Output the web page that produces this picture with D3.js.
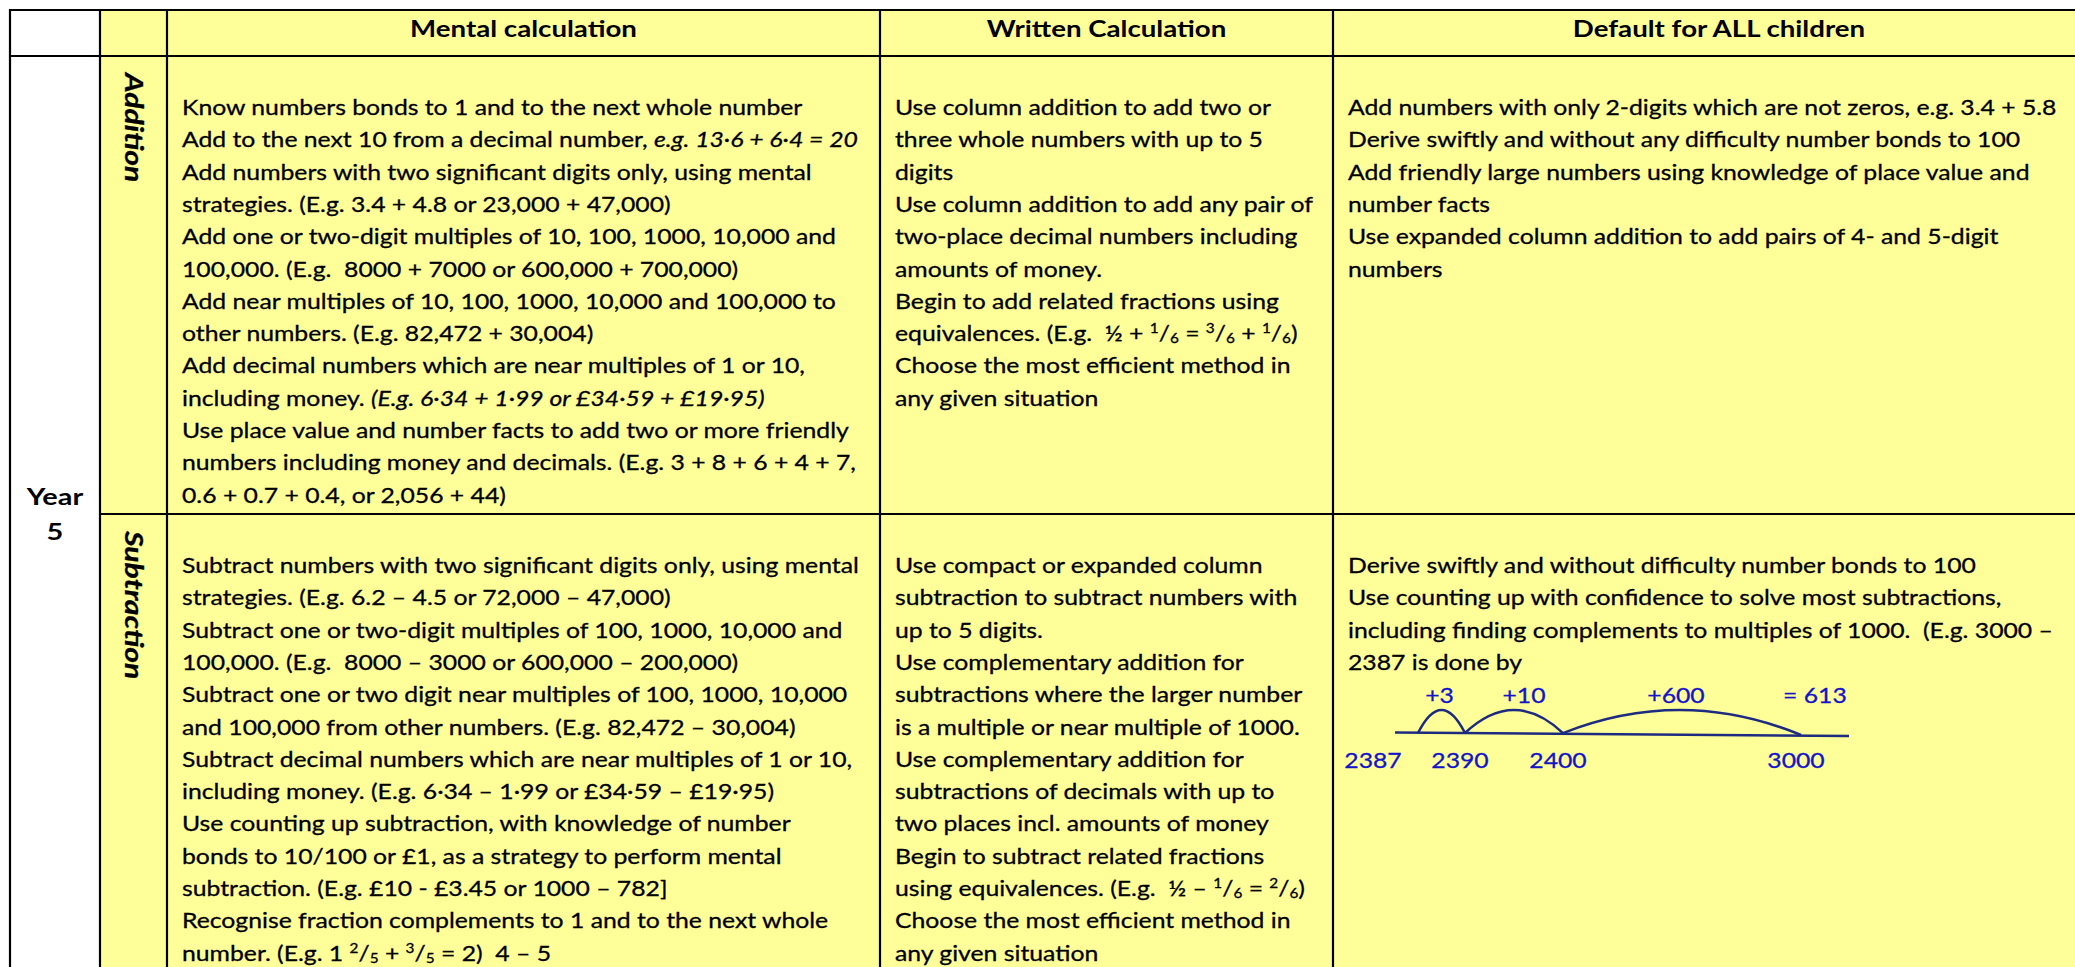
<!DOCTYPE html>
<html><head><meta charset="utf-8">
<script src="https://cdn.jsdelivr.net/npm/d3@7"></script>
<style>body{margin:0;background:#fff}svg{display:block}text{white-space:pre}</style>
</head><body>
<svg id="c" width="2075" height="967"></svg>
<script>
// ---------------- DATA ----------------
const headers = ["", "", "Mental calculation", "Written Calculation", "Default for ALL children"];
const yearLabel = ["Year", "5"];
const rowLabels = ["Addition", "Subtraction"];

const mentalAddition = [
  "Know numbers bonds to 1 and to the next whole number",
  "Add to the next 10 from a decimal number, *e.g. 13·6 + 6·4 = 20*",
  "Add numbers with two significant digits only, using mental",
  "strategies. (E.g. 3.4 + 4.8 or 23,000 + 47,000)",
  "Add one or two-digit multiples of 10, 100, 1000, 10,000 and",
  "100,000. (E.g.  8000 + 7000 or 600,000 + 700,000)",
  "Add near multiples of 10, 100, 1000, 10,000 and 100,000 to",
  "other numbers. (E.g. 82,472 + 30,004)",
  "Add decimal numbers which are near multiples of 1 or 10,",
  "including money. *(E.g. 6·34 + 1·99 or £34·59 + £19·95)*",
  "Use place value and number facts to add two or more friendly",
  "numbers including money and decimals. (E.g. 3 + 8 + 6 + 4 + 7,",
  "0.6 + 0.7 + 0.4, or 2,056 + 44)"
];
const writtenAddition = [
  "Use column addition to add two or",
  "three whole numbers with up to 5",
  "digits",
  "Use column addition to add any pair of",
  "two-place decimal numbers including",
  "amounts of money.",
  "Begin to add related fractions using",
  "equivalences. (E.g.  ½ + ^1^/_6_ = ^3^/_6_ + ^1^/_6_)",
  "Choose the most efficient method in",
  "any given situation"
];
const defaultAddition = [
  "Add numbers with only 2-digits which are not zeros, e.g. 3.4 + 5.8",
  "Derive swiftly and without any difficulty number bonds to 100",
  "Add friendly large numbers using knowledge of place value and",
  "number facts",
  "Use expanded column addition to add pairs of 4- and 5-digit",
  "numbers"
];
const mentalSubtraction = [
  "Subtract numbers with two significant digits only, using mental",
  "strategies. (E.g. 6.2 – 4.5 or 72,000 – 47,000)",
  "Subtract one or two-digit multiples of 100, 1000, 10,000 and",
  "100,000. (E.g.  8000 – 3000 or 600,000 – 200,000)",
  "Subtract one or two digit near multiples of 100, 1000, 10,000",
  "and 100,000 from other numbers. (E.g. 82,472 – 30,004)",
  "Subtract decimal numbers which are near multiples of 1 or 10,",
  "including money. (E.g. 6·34 – 1·99 or £34·59 – £19·95)",
  "Use counting up subtraction, with knowledge of number",
  "bonds to 10/100 or £1, as a strategy to perform mental",
  "subtraction. (E.g. £10 - £3.45 or 1000 – 782]",
  "Recognise fraction complements to 1 and to the next whole",
  "number. (E.g. 1 ^2^/_5_ + ^3^/_5_ = 2)  4 – 5"
];
const writtenSubtraction = [
  "Use compact or expanded column",
  "subtraction to subtract numbers with",
  "up to 5 digits.",
  "Use complementary addition for",
  "subtractions where the larger number",
  "is a multiple or near multiple of 1000.",
  "Use complementary addition for",
  "subtractions of decimals with up to",
  "two places incl. amounts of money",
  "Begin to subtract related fractions",
  "using equivalences. (E.g.  ½ – ^1^/_6_ = ^2^/_6_)",
  "Choose the most efficient method in",
  "any given situation"
];
const defaultSubtraction = [
  "Derive swiftly and without difficulty number bonds to 100",
  "Use counting up with confidence to solve most subtractions,",
  "including finding complements to multiples of 1000.  (E.g. 3000 –",
  "2387 is done by"
];
const numberLineValues = [2387, 2390, 2400, 3000];
const jumpLabels = ["+3", "+10", "+600"];
const jumpResult = "= 613";

// ---------------- LAYOUT ----------------
const W = 2075, H = 967;
const colEdges = [10, 100, 167, 880, 1333, 2090];
const rowEdges = [10, 56, 514, 990];
const YELLOW = "#FFFF99";
const FONT = "Lato, 'Open Sans', sans-serif";
const FS = 22, LH = 32.3, PAD = 15, FIRST = 59;
const INK = 0.3; // slight stroke to mimic the darker reference face

const svg = d3.select("#c");

const colX = d3.scaleOrdinal().domain(d3.range(colEdges.length)).range(colEdges);
const rowY = d3.scaleOrdinal().domain(d3.range(rowEdges.length)).range(rowEdges);

// backgrounds
svg.append("rect").attr("x", 0).attr("y", 0).attr("width", W).attr("height", H).attr("fill", "#fff");
svg.append("rect").attr("x", colX(1)).attr("y", rowY(0))
  .attr("width", W - colX(1)).attr("height", H - rowY(0)).attr("fill", YELLOW);

// ---- text helpers ----
function parseSegs(s) {
  const out = []; const re = /(\*[^*]+\*|\^[^^]+\^|_[^_]+_)/g;
  let last = 0, m;
  while ((m = re.exec(s))) {
    if (m.index > last) out.push({ t: s.slice(last, m.index), k: "n" });
    const tok = m[0];
    out.push({ t: tok.slice(1, -1), k: tok[0] === "*" ? "i" : tok[0] === "^" ? "sup" : "sub" });
    last = re.lastIndex;
  }
  if (last < s.length) out.push({ t: s.slice(last), k: "n" });
  return out;
}
function fillText(textSel, str) {
  let cur = 0;
  parseSegs(str).forEach(sg => {
    const target = sg.k === "sup" ? -8 : sg.k === "sub" ? 2 : 0;
    const ts = textSel.append("tspan").text(sg.t).attr("dy", target - cur);
    cur = target;
    if (sg.k === "i") ts.attr("font-style", "italic");
    if (sg.k === "sup" || sg.k === "sub") ts.attr("font-size", FS * 0.62);
  });
}
function measure(str, weight, style, size) {
  const t = svg.append("text").attr("font-family", FONT).attr("font-size", size || FS)
    .attr("font-weight", weight || "normal").attr("font-style", style || "normal");
  fillText(t, str);
  const w = t.node().getBBox().width;
  t.remove();
  return w;
}
// horizontal calibration against reference line widths
const kMental = 678 / measure(mentalAddition[1]);
const kWritten = 420 / measure(writtenAddition[3]);
const kDefault = 705 / measure(defaultAddition[0]);
const kBody = (kMental + kWritten + kDefault) / 3;
const kHead = 227 / measure(headers[2], "bold");

function drawLines(lines, x, top, color) {
  lines.forEach((str, i) => {
    const g = svg.append("g")
      .attr("transform", `translate(${x},${top + FIRST + i * LH}) scale(${kBody},1)`);
    const t = g.append("text").attr("x", 0).attr("y", 0)
      .attr("font-family", FONT).attr("font-size", FS).attr("fill", color || "#000")
      .attr("stroke", color || "#000").attr("stroke-width", INK);
    fillText(t, str);
  });
}

// headers
headers.forEach((h, i) => {
  if (!h) return;
  const center = i === 4 ? (colX(4) + W + 30) / 2 : (colX(i) + colX(i + 1)) / 2;
  svg.append("g").attr("transform", `translate(${center},37) scale(${kHead},1)`)
    .append("text").attr("text-anchor", "middle").attr("font-family", FONT)
    .attr("font-size", FS).attr("font-weight", "bold").text(h);
});

// year label
yearLabel.forEach((s, i) => {
  svg.append("g").attr("transform", `translate(${(colX(0) + colX(1)) / 2},${505 + i * 35}) scale(${kHead},1)`)
    .append("text").attr("text-anchor", "middle").attr("font-family", FONT)
    .attr("font-size", FS + 1).attr("font-weight", "bold").text(s);
});

// rotated row labels
rowLabels.forEach((s, i) => {
  svg.append("g").attr("transform", `translate(${colX(1) + 25},${rowY(i + 1) + 17}) rotate(90) scale(${kHead},1)`)
    .append("text").attr("font-family", FONT).attr("font-size", FS + 2)
    .attr("font-weight", "bold").attr("font-style", "italic")
    .attr("stroke", "#000").attr("stroke-width", INK).text(s);
});

// cell bodies
const cells = [
  [mentalAddition, writtenAddition, defaultAddition],
  [mentalSubtraction, writtenSubtraction, defaultSubtraction]
];
cells.forEach((row, r) => row.forEach((lines, c) => {
  drawLines(lines, colX(c + 2) + PAD, rowY(r + 1));
}));

// ---- number line (empty number line diagram) ----
const cellL = colX(4);
const nx = d3.scaleLinear().domain(numberLineValues)
  .range([cellL + 85, cellL + 132, cellL + 230, cellL + 468]);
const baseY = d3.scaleLinear().domain([2387, 3000]).range([733, 735]);
const NAVY = "#1c2b80", BLUE = "#1414c8";
const nl = svg.append("g");
nl.append("line")
  .attr("x1", nx(2387) - 23).attr("y1", baseY(2387) - 0.5)
  .attr("x2", nx(3000) + 48).attr("y2", baseY(3000) + 1)
  .attr("stroke", NAVY).attr("stroke-width", 2.5);
const jumps = d3.pairs(numberLineValues);
nl.selectAll("path.arc").data(jumps).join("path").attr("class", "arc")
  .attr("d", ([a, b]) => {
    const x0 = nx(a), x1 = nx(b), y0 = baseY(a), y1 = baseY(b);
    const peak = 710;
    const cy = 2 * peak - (y0 + y1) / 2;
    return `M${x0},${y0} Q${(x0 + x1) / 2},${cy} ${x1},${y1}`;
  })
  .attr("fill", "none").attr("stroke", NAVY).attr("stroke-width", 2.5);
nl.selectAll("g.jl").data(jumps).join("g").attr("class", "jl")
  .attr("transform", ([a, b], i) => `translate(${(nx(a) + nx(b)) / 2 + (i === 1 ? 10 : i === 2 ? -6 : -2)},703) scale(${kBody},1)`)
  .append("text").attr("text-anchor", "middle").attr("font-family", FONT)
  .attr("font-size", FS).attr("fill", BLUE).attr("stroke", BLUE).attr("stroke-width", INK)
  .text((d, i) => jumpLabels[i]);
nl.append("g").attr("transform", `translate(${nx(3000) - 18},703) scale(${kBody},1)`)
  .append("text").attr("font-family", FONT).attr("font-size", FS).attr("fill", BLUE)
  .attr("stroke", BLUE).attr("stroke-width", INK).text(jumpResult);
nl.selectAll("g.vl").data(numberLineValues).join("g").attr("class", "vl")
  .attr("transform", (v, i) => `translate(${i === 0 ? cellL + PAD + 25 : nx(v) - 5},768) scale(${kBody},1)`)
  .append("text").attr("text-anchor", "middle").attr("font-family", FONT)
  .attr("font-size", FS).attr("fill", BLUE).attr("stroke", BLUE).attr("stroke-width", INK)
  .text(v => v);

// ---- borders ----
const B = svg.append("g").attr("stroke", "#000").attr("stroke-width", 2.2);
colEdges.slice(0, 5).forEach(x => {
  B.append("line").attr("x1", x).attr("x2", x).attr("y1", rowY(0) - 1).attr("y2", H + 5);
});
B.append("line").attr("x1", colX(0) - 1).attr("x2", W + 5).attr("y1", rowY(0)).attr("y2", rowY(0));
B.append("line").attr("x1", colX(0) - 1).attr("x2", W + 5).attr("y1", rowY(1)).attr("y2", rowY(1));
B.append("line").attr("x1", colX(1)).attr("x2", W + 5).attr("y1", rowY(2)).attr("y2", rowY(2));
</script>
</body></html>
